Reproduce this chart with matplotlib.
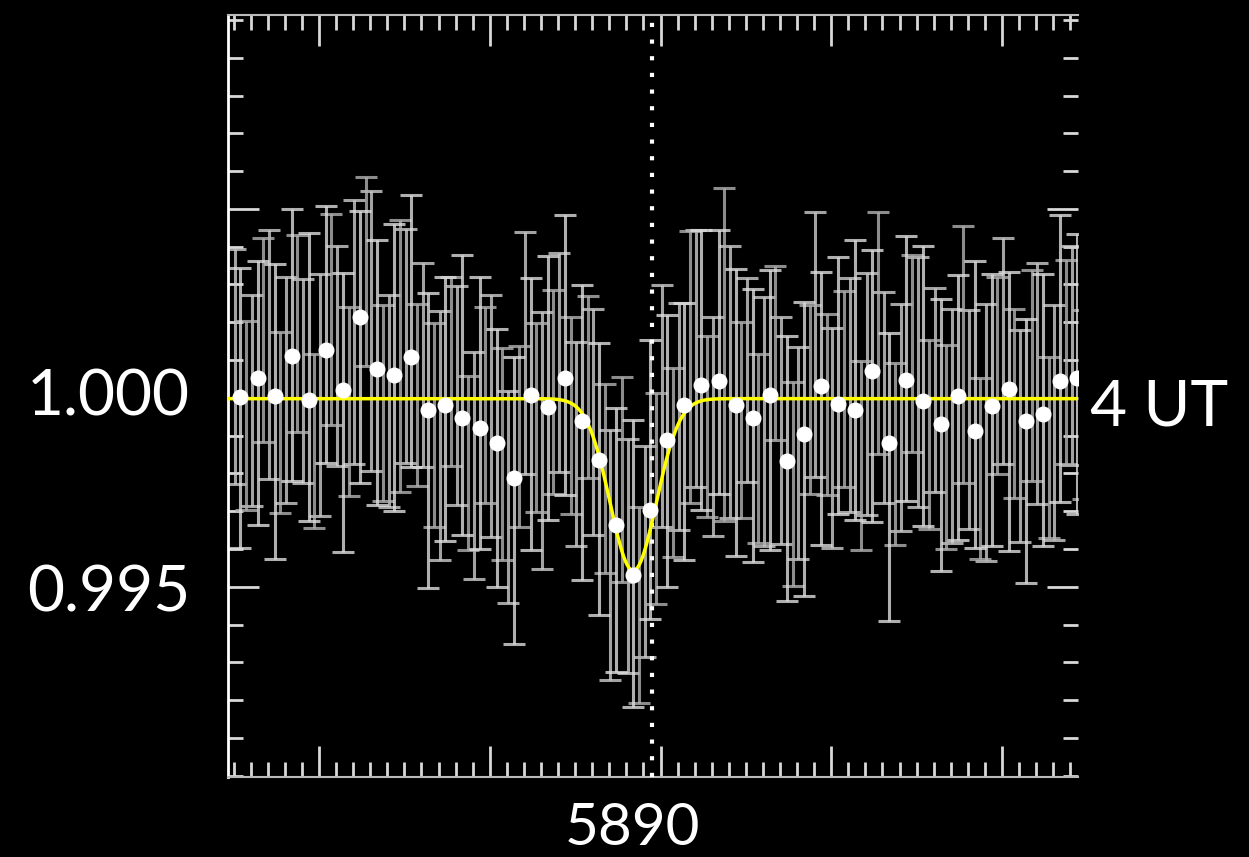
import numpy as np
import matplotlib.pyplot as plt
from matplotlib.ticker import MultipleLocator

# binned spectrum (white dots), wavelength in Angstrom
wave = [5887.54, 5887.64, 5887.74, 5887.84, 5887.94, 5888.04, 5888.14, 5888.24, 5888.34, 5888.44,
        5888.54, 5888.64, 5888.74, 5888.84, 5888.94, 5889.04, 5889.14, 5889.24, 5889.34, 5889.44,
        5889.54, 5889.64, 5889.74, 5889.84, 5889.94, 5890.04, 5890.14, 5890.24, 5890.34, 5890.44,
        5890.54, 5890.64, 5890.74, 5890.84, 5890.94, 5891.04, 5891.14, 5891.24, 5891.34, 5891.44,
        5891.54, 5891.64, 5891.74, 5891.84, 5891.94, 5892.04, 5892.14, 5892.24, 5892.34, 5892.44]
binned = [1.00003, 1.00053, 1.00005, 1.00111, 0.99995, 1.00127, 1.00021, 1.00214, 1.00077, 1.00061,
          1.00108, 0.99968, 0.99981, 0.99947, 0.99921, 0.99881, 0.99788, 1.00008, 0.99976, 1.00053,
          0.99939, 0.99836, 0.99664, 0.99532, 0.99704, 0.99889, 0.99981, 1.00034, 1.00045, 0.99981,
          0.99947, 1.00008, 0.99833, 0.99905, 1.00032, 0.99984, 0.99968, 1.00071, 0.99881, 1.00048,
          0.99992, 0.99931, 1.00005, 0.99913, 0.99979, 1.00024, 0.99939, 0.99958, 1.00045, 1.00053]

# unbinned spectra (grey error bars), three exposures per bin
flux_a = [1.00083, 0.99993, 1.00115, 1.00021, 1.00045, 1.00007, 1.00111, 1.00174, 1.00177, 0.99991,
          1.00138, 1.00088, 0.99901, 1.00007, 0.99821, 0.99951, 0.99738, 1.00118, 0.99886, 1.00093,
          0.99879, 0.99936, 0.99584, 0.99582, 0.99594, 0.99979, 0.99951, 1.00104, 0.99925, 1.00041,
          1.00047, 0.99938, 0.99913, 0.99855, 1.00142, 0.99894, 1.00008, 1.00011, 1.00001, 0.99948,
          1.00042, 1.00021, 0.99925, 0.99943, 0.99909, 1.00124, 0.99899, 1.00038, 0.99935, 1.00113]
flux_b = [0.99953, 1.00153, 0.99935, 1.00171, 0.99885, 1.00207, 0.99991, 1.00334, 0.99987, 1.00111,
          1.00008, 0.99928, 1.00071, 0.99827, 0.99981, 0.99851, 0.99898, 0.99948, 1.00016, 0.99953,
          1.00029, 0.99786, 0.99784, 0.99452, 0.99734, 0.99829, 1.00081, 0.99924, 1.00115, 0.99941,
          0.99867, 1.00118, 0.99773, 0.99995, 0.99982, 1.00024, 0.99848, 1.00171, 0.99851, 1.00118,
          0.99902, 0.99871, 1.00115, 0.99813, 1.00059, 0.99984, 1.00059, 0.99868, 1.00095, 0.99983]
flux_c = [0.99973, 1.00013, 0.99965, 1.00141, 1.00055, 1.00167, 0.99961, 1.00134, 1.00067, 1.00081,
          1.00178, 0.99888, 0.99971, 1.00007, 0.99961, 0.99841, 0.99728, 0.99958, 1.00026, 1.00113,
          0.99909, 0.99786, 0.99624, 0.99562, 0.99784, 0.99859, 0.99911, 1.00074, 1.00095, 0.99961,
          0.99927, 0.99968, 0.99813, 0.99865, 0.99972, 1.00034, 1.00048, 1.00031, 0.99791, 1.00078,
          1.00032, 0.99901, 0.99975, 0.99983, 0.99969, 0.99964, 0.99859, 0.99968, 1.00105, 1.00063]
err_a = [0.0031, 0.0028, 0.0033, 0.0030, 0.0027, 0.0032, 0.0029, 0.0035, 0.0037, 0.0028,
         0.0031, 0.0027, 0.0033, 0.0029, 0.0030, 0.0032, 0.0028, 0.0032, 0.0034, 0.0029,
         0.0027, 0.0030, 0.0033, 0.0031, 0.0028, 0.0032, 0.0030, 0.0034, 0.0029, 0.0036,
         0.0027, 0.0033, 0.0030, 0.0028, 0.0035, 0.0029, 0.0031, 0.0032, 0.0028, 0.0030,
         0.0033, 0.0027, 0.0031, 0.0029, 0.0034, 0.0030, 0.0028, 0.0032, 0.0031, 0.0029]
err_b = [0.0025, 0.0027, 0.0024, 0.0026, 0.0023, 0.0028, 0.0025, 0.0025, 0.0026, 0.0036,
         0.0024, 0.0027, 0.0025, 0.0023, 0.0026, 0.0028, 0.0024, 0.0025, 0.0027, 0.0026,
         0.0024, 0.0025, 0.0027, 0.0026, 0.0028, 0.0025, 0.0036, 0.0024, 0.0044, 0.0026,
         0.0025, 0.0023, 0.0027, 0.0025, 0.0024, 0.0026, 0.0025, 0.0032, 0.0024, 0.0026,
         0.0025, 0.0027, 0.0034, 0.0024, 0.0026, 0.0025, 0.0028, 0.0024, 0.0027, 0.0025]
err_c = [0.0037, 0.0035, 0.0039, 0.0036, 0.0038, 0.0034, 0.0037, 0.0036, 0.0035, 0.0038,
         0.0036, 0.0039, 0.0035, 0.0037, 0.0036, 0.0034, 0.0038, 0.0036, 0.0035, 0.0037,
         0.0039, 0.0036, 0.0035, 0.0038, 0.0037, 0.0036, 0.0034, 0.0037, 0.0035, 0.0038,
         0.0036, 0.0037, 0.0035, 0.0039, 0.0036, 0.0034, 0.0037, 0.0036, 0.0038, 0.0035,
         0.0037, 0.0036, 0.0035, 0.0038, 0.0036, 0.0037, 0.0035, 0.0036, 0.0038, 0.0037]

# gaussian fit (yellow): continuum, depth, centre, sigma
fit_cont, fit_depth, fit_center, fit_sigma = 0.99998, 0.00455, 5889.84, 0.135
na_d2 = 5889.95

wave = np.array(wave)
plt.rcParams['font.family'] = ['Lato', 'DejaVu Sans']

fig = plt.figure(figsize=(12.49, 8.57), dpi=100, facecolor='black')
ax = fig.add_axes([228/1249, 1 - 777/857, 850/1249, 762/857])
ax.set_facecolor('black')

# grey error bars
for off, f, e, c in [(-0.033, flux_a, err_a, '#cccccc'),
                     (0.033, flux_b, err_b, '#b0b0b0'),
                     (0.0, flux_c, err_c, '#dcdcdc')]:
    ax.errorbar(wave + off, f, yerr=e, fmt='none', ecolor=c, alpha=0.8,
                elinewidth=2.2, capsize=8, capthick=2.2, zorder=2)

# na D2 line position
ax.axvline(na_d2, color='white', lw=3, linestyle=(0, (1.0, 3.0)),
           dash_capstyle='butt', zorder=3)

# model
xm = np.linspace(5887.3, 5892.6, 600)
ym = fit_cont - fit_depth * np.exp(-0.5 * ((xm - fit_center) / fit_sigma) ** 2)
ax.plot(xm, ym, color='#ffff00', lw=2.5, zorder=4)

# binned points
ax.plot(wave, binned, 'o', color='white', ms=10.5, mec='white', zorder=5)

ax.set_xlim(5887.467, 5892.445)
ax.set_ylim(0.98997, 1.01013)

ax.xaxis.set_major_locator(MultipleLocator(1.0))
ax.xaxis.set_minor_locator(MultipleLocator(0.1))
ax.yaxis.set_major_locator(plt.FixedLocator([0.995, 1.005]))
ax.yaxis.set_minor_locator(MultipleLocator(0.001))

ax.tick_params(which='both', direction='in', top=True, bottom=True, left=True, right=True,
               labelleft=False, labelbottom=False, color='#d8d8d8', width=2)
ax.tick_params(which='major', length=22)
ax.tick_params(which='minor', length=11)

for s in ['top', 'bottom']:
    ax.spines[s].set_color('#bbbbbb')
    ax.spines[s].set_linewidth(1.5)
ax.spines['left'].set_color('white')
ax.spines['left'].set_linewidth(2)
ax.spines['right'].set_visible(False)

# labels
fig.text(190/1249, 1 - 415/857, '1.000', color='white', fontsize=46, ha='right', va='baseline')
fig.text(190/1249, 1 - 612/857, '0.995', color='white', fontsize=46, ha='right', va='baseline')
fig.text(1090/1249, 1 - 425/857, '4 UT', color='white', fontsize=46, ha='left', va='baseline')
fig.text(632/1249, 1 - 845/857, '5890', color='white', fontsize=42, ha='center', va='baseline')

fig.savefig('out.png', dpi=100, facecolor='black')
